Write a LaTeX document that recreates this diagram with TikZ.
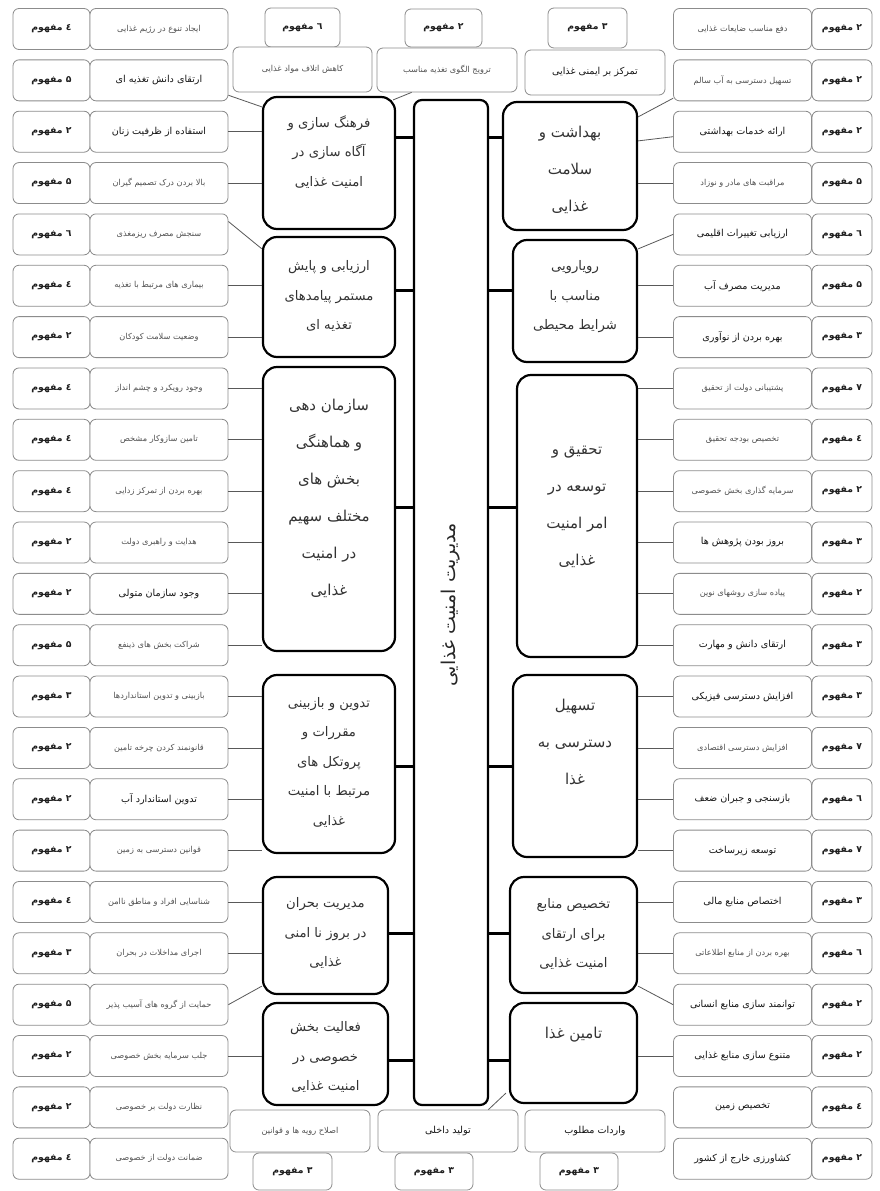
\documentclass[tikz,border=0pt]{standalone}
\usepackage{fontspec}
\newfontfamily\fa[Script=Arabic]{DejaVu Sans}
\TeXXeTstate=1
\usetikzlibrary{calc}
\newcommand{\Rtx}[1]{\beginR#1\endR}
\newcommand{\fsm}{\fa\fontsize{8.2}{10}\selectfont\color{black!68}}
\newcommand{\fbg}{\fa\fontsize{9.6}{11}\selectfont\color{black!92}}
\begin{document}
\begin{tikzpicture}[x=1pt,y=-1pt,
  smallbox/.style={draw=black!45, line width=0.8pt, rounded corners=6pt, fill=white, inner sep=0pt},
  cnt/.style={smallbox, minimum width=77pt, minimum height=41pt, font=\fa\bfseries\fontsize{9.3}{11}\selectfont, text=black!88},
  cntr/.style={smallbox, minimum width=60pt, minimum height=41pt, font=\fa\bfseries\fontsize{9.3}{11}\selectfont, text=black!88},
  txbox/.style={smallbox, minimum width=138pt, minimum height=41pt},
  catbox/.style={draw=black, line width=2.2pt, rounded corners=14pt, fill=white},
  ctxs/.style={font=\fa\fontsize{13.2}{29.5}\selectfont, align=center, text=black!80},
  ctxl/.style={font=\fa\fontsize{15}{37}\selectfont, align=center, text=black!80},
  link/.style={draw=black!65, line width=0.8pt},
  hub/.style={draw=black, line width=3pt},
]
\useasboundingbox (0,0) rectangle (879,1191);
\fill[white] (0,0) rectangle (879,1191);

% central box
\node[draw=black, line width=2.2pt, rounded corners=8pt, fill=white, minimum width=74pt, minimum height=1005pt] (CB) at (451,602.5) {};
\node[rotate=90, font=\fa\fontsize{19}{21}\selectfont, text=black!85] (CT) at (451,605) {\Rtx{مدیریت امنیت غذایی}};

% left category boxes
\node[catbox, minimum width=132pt, minimum height=132pt] (LC1) at (329,163) {};
\node[catbox, minimum width=132pt, minimum height=120pt] (LC2) at (329,297) {};
\node[catbox, minimum width=132pt, minimum height=284pt] (LC3) at (329,509) {};
\node[catbox, minimum width=132pt, minimum height=178pt] (LC4) at (329,764) {};
\node[catbox, minimum width=125pt, minimum height=117pt] (LC5) at (325.5,935.5) {};
\node[catbox, minimum width=125pt, minimum height=102pt] (LC6) at (325.5,1054) {};
% right category boxes
\node[catbox, minimum width=134pt, minimum height=128pt] (RC1) at (570,166) {};
\node[catbox, minimum width=124pt, minimum height=122pt] (RC2) at (575,301) {};
\node[catbox, minimum width=120pt, minimum height=282pt] (RC3) at (577,516) {};
\node[catbox, minimum width=124pt, minimum height=182pt] (RC4) at (575,766) {};
\node[catbox, minimum width=127pt, minimum height=116pt] (RC5) at (573.5,935) {};
\node[catbox, minimum width=127pt, minimum height=100pt] (RC6) at (573.5,1053) {};

% category texts
\node[ctxs] (LC1t) at (329,152) {\Rtx{فرهنگ سازی و}\\\Rtx{آگاه سازی در}\\\Rtx{امنیت غذایی}};
\node[ctxs] (LC2t) at (329,296) {\Rtx{ارزیابی و پایش}\\\Rtx{مستمر پیامدهای}\\\Rtx{تغذیه ای}};
\node[ctxl] (LC3t) at (329,498) {\Rtx{سازمان دهی}\\\Rtx{و هماهنگی}\\\Rtx{بخش های}\\\Rtx{مختلف سهیم}\\\Rtx{در امنیت}\\\Rtx{غذایی}};
\node[ctxs] (LC4t) at (329,762) {\Rtx{تدوین و بازبینی}\\\Rtx{مقررات و}\\\Rtx{پروتکل های}\\\Rtx{مرتبط با امنیت}\\\Rtx{غذایی}};
\node[ctxs] (LC5t) at (325.5,933) {\Rtx{مدیریت بحران}\\\Rtx{در بروز نا امنی}\\\Rtx{غذایی}};
\node[ctxs] (LC6t) at (325.5,1057) {\Rtx{فعالیت بخش}\\\Rtx{خصوصی در}\\\Rtx{امنیت غذایی}};
\node[ctxl] (RC1t) at (570,170) {\Rtx{بهداشت و}\\\Rtx{سلامت}\\\Rtx{غذایی}};
\node[ctxs] (RC2t) at (575,297) {\Rtx{رویارویی}\\\Rtx{مناسب با}\\\Rtx{شرایط محیطی}};
\node[ctxl] (RC3t) at (577,507) {\Rtx{تحقیق و}\\\Rtx{توسعه در}\\\Rtx{امر امنیت}\\\Rtx{غذایی}};
\node[ctxl] (RC4t) at (575,742) {\Rtx{تسهیل}\\\Rtx{دسترسی به}\\\Rtx{غذا}};
\node[ctxs] (RC5t) at (573.5,934) {\Rtx{تخصیص منابع}\\\Rtx{برای ارتقای}\\\Rtx{امنیت غذایی}};
\node[ctxl] (RC6t) at (573.5,1035) {\Rtx{تامین غذا}};

% hub connectors
\foreach \b/\yh in {1/137,2/290,3/507,4/766,5/933,6/1060}{
  \coordinate (hl\b) at (0,\yh);
  \draw[hub] (LC\b.east |- hl\b) -- (CB.west |- hl\b);
  \draw[hub] (CB.east |- hl\b) -- (RC\b.west |- hl\b);
}

% left rows
\foreach \k/\cc/\fs/\t in {
 1/٤/\fsm/ایجاد تنوع در رژیم غذایی,
 2/۵/\fbg/ارتقای دانش تغذیه ای,
 3/٢/\fbg/استفاده از ظرفیت زنان,
 4/۵/\fsm/بالا بردن درک تصمیم گیران,
 5/٦/\fsm/سنجش مصرف ریزمغذی,
 6/٤/\fsm/بیماری های مرتبط با تغذیه,
 7/٢/\fsm/وضعیت سلامت کودکان,
 8/٤/\fsm/وجود رویکرد و چشم انداز,
 9/٤/\fsm/تامین سازوکار مشخص,
 10/٤/\fsm/بهره بردن از تمرکز زدایی,
 11/٢/\fsm/هدایت و راهبری دولت,
 12/٢/\fbg/وجود سازمان متولی,
 13/۵/\fsm/شراکت بخش های ذینفع,
 14/٣/\fsm/بازبینی و تدوین استانداردها,
 15/٢/\fsm/قانونمند کردن چرخه تامین,
 16/٢/\fbg/تدوین استاندارد آب,
 17/٢/\fsm/قوانین دسترسی به زمین,
 18/٤/\fsm/شناسایی افراد و مناطق ناامن,
 19/٣/\fsm/اجرای مداخلات در بحران,
 20/۵/\fsm/حمایت از گروه های آسیب پذیر,
 21/٢/\fsm/جلب سرمایه بخش خصوصی,
 22/٢/\fsm/نظارت دولت بر خصوصی,
 23/٤/\fsm/ضمانت دولت از خصوصی}{
  \pgfmathsetmacro\yy{29+51.35*(\k-1)}
  \node[cnt] (Lc\k) at (51.5,\yy) {\Rtx{\cc{} مفهوم}};
  \node[txbox] (L\k) at (159,\yy) {\fs\Rtx{\t}};
}

% right rows
\foreach \k/\cc/\fs/\t in {
 1/٢/\fsm/دفع مناسب ضایعات غذایی,
 2/٢/\fsm/تسهیل دسترسی به آب سالم,
 3/٢/\fbg/ارائه خدمات بهداشتی,
 4/۵/\fsm/مراقبت های مادر و نوزاد,
 5/٦/\fbg/ارزیابی تغییرات اقلیمی,
 6/۵/\fbg/مدیریت مصرف آب,
 7/٣/\fbg/بهره بردن از نوآوری,
 8/٧/\fsm/پشتیبانی دولت از تحقیق,
 9/٤/\fsm/تخصیص بودجه تحقیق,
 10/٢/\fsm/سرمایه گذاری بخش خصوصی,
 11/٣/\fbg/بروز بودن پژوهش ها,
 12/٢/\fsm/پیاده سازی روشهای نوین,
 13/٣/\fbg/ارتقای دانش و مهارت,
 14/٣/\fbg/افزایش دسترسی فیزیکی,
 15/٧/\fsm/افزایش دسترسی اقتصادی,
 16/٦/\fbg/بازسنجی و جبران ضعف,
 17/٧/\fbg/توسعه زیرساخت,
 18/٣/\fbg/اختصاص منابع مالی,
 19/٦/\fsm/بهره بردن از منابع اطلاعاتی,
 20/٢/\fbg/توانمند سازی منابع انسانی,
 21/٢/\fbg/متنوع سازی منابع غذایی,
 22/٤/\fbg/تخصیص زمین,
 23/٢/\fbg/کشاورزی خارج از کشور}{
  \pgfmathsetmacro\yy{29+51.35*(\k-1)}
  \node[cntr] (Rc\k) at (842,\yy) {\Rtx{\cc{} مفهوم}};
  \node[txbox] (R\k) at (742.5,\yy) {\fs\Rtx{\t}};
}

% top boxes
\node[cnt, minimum width=75pt, minimum height=39pt] (T1c) at (302.5,27.5) {\Rtx{٦ مفهوم}};
\node[txbox, minimum width=139pt, minimum height=45pt] (T1t) at (302.5,69.5) {\fsm\Rtx{کاهش اتلاف مواد غذایی}};
\node[cnt, minimum width=77pt, minimum height=38pt] (T2c) at (443.5,28) {\Rtx{٢ مفهوم}};
\node[txbox, minimum width=140pt, minimum height=44pt] (T2t) at (447,70) {\fsm\Rtx{ترویج الگوی تغذیه مناسب}};
\node[cnt, minimum width=79pt, minimum height=40pt] (T3c) at (587.5,28) {\Rtx{٣ مفهوم}};
\node[txbox, minimum width=140pt, minimum height=45pt] (T3t) at (595,72.5) {\fbg\Rtx{تمرکز بر ایمنی غذایی}};

% bottom boxes
\node[txbox, minimum width=140pt, minimum height=42pt] (B1t) at (300,1131) {\fsm\Rtx{اصلاح رویه ها و قوانین}};
\node[cnt, minimum width=79pt, minimum height=37pt] (B1c) at (292.5,1171.5) {\Rtx{٣ مفهوم}};
\node[txbox, minimum width=140pt, minimum height=42pt] (B2t) at (448,1131) {\fbg\Rtx{تولید داخلی}};
\node[cnt, minimum width=78pt, minimum height=37pt] (B2c) at (434,1171.5) {\Rtx{٣ مفهوم}};
\node[txbox, minimum width=140pt, minimum height=42pt] (B3t) at (595,1131) {\fbg\Rtx{واردات مطلوب}};
\node[cnt, minimum width=78pt, minimum height=37pt] (B3c) at (579,1171.5) {\Rtx{٣ مفهوم}};

% left links
\foreach \k/\tg in {3/LC1,4/LC1,6/LC2,7/LC2,8/LC3,9/LC3,10/LC3,11/LC3,12/LC3,13/LC3,14/LC4,15/LC4,16/LC4,17/LC4,18/LC5,19/LC5,21/LC6}{
  \draw[link] (L\k.east) -- (L\k.east -| \tg.west);
}
\draw[link] ($(L2.south east)+(0,-6)$) -- ($(LC1.north west)+(0,11)$);
\draw[link] ($(L5.north east)+(0,8)$) -- ($(LC2.north west)+(0,13)$);
\draw[link] (L20.east) -- ($(LC5.south west)+(0,-9)$);
% right links
\foreach \k/\tg in {4/RC1,6/RC2,7/RC2,8/RC3,9/RC3,10/RC3,11/RC3,12/RC3,13/RC3,14/RC4,15/RC4,16/RC4,17/RC4,18/RC5,19/RC5,21/RC6}{
  \draw[link] (R\k.west) -- (R\k.west -| \tg.east);
}
\draw[link] ($(R2.south west)+(0,-3)$) -- ($(RC1.north east)+(0,16)$);
\draw[link] ($(R3.west)+(0,5)$) -- ($(RC1.north east)+(0,40)$);
\draw[link] (R5.west) -- ($(RC2.north east)+(0,10)$);
\draw[link] (R20.west) -- ($(RC5.south east)+(0,-8)$);
% top / bottom links
\draw[link] ($(T2t.south west)+(35,0)$) -- ($(LC1.north east)+(-3,4)$);
\draw[link] ($(B2t.north east)+(-30,0)$) -- ($(RC6.south west)+(-3,-11)$);
\end{tikzpicture}
\end{document}
